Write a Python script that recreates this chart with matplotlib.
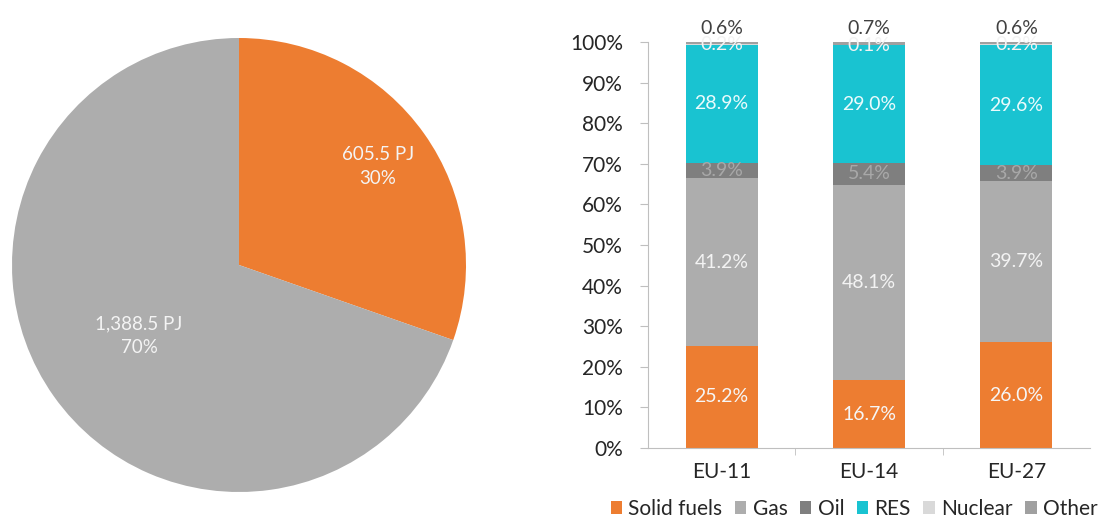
import matplotlib
matplotlib.use("Agg")
import matplotlib.pyplot as plt
import numpy as np

plt.rcParams['font.family'] = ['Lato', 'DejaVu Sans']

# Pie data
pie_values = [605.5, 1388.5]
pie_labels = ["605.5 PJ\n30%", "1,388.5 PJ\n70%"]
pie_colors = ["#ED7D31", "#ADADAD"]

# Stacked bar data
categories = ["EU-11", "EU-14", "EU-27"]
series_names = ["Solid fuels", "Gas", "Oil", "RES", "Nuclear", "Other"]
solid = [25.2, 16.7, 26.0]
gas = [41.2, 48.1, 39.7]
oil = [3.9, 5.4, 3.9]
res = [28.9, 29.0, 29.6]
nuclear = [0.2, 0.1, 0.2]
other = [0.6, 0.7, 0.6]
series = [solid, gas, oil, res, nuclear, other]
colors = ["#ED7D31", "#ADADAD", "#7F7F7F", "#19C3D1", "#D9D9D9", "#A0A0A0"]
label_colors = ["#F6F6F6", "#F3F3F3", "#A8A8A8", "#EAFBFC", "#F3F3F3", "#404040"]
yticks = [0, 10, 20, 30, 40, 50, 60, 70, 80, 90, 100]

fig = plt.figure(figsize=(11.07, 5.23), dpi=100)

# ---- Pie ----
axp = fig.add_axes([12/1107, (523-265-227)/523, 454/1107, 454/523])
wedges, _ = axp.pie(pie_values, colors=pie_colors, startangle=90, counterclock=False,
                    wedgeprops=dict(linewidth=0))
axp.set_xlim(-1, 1)
axp.set_ylim(-1, 1)
axp.set_aspect('equal')
dists = [0.75, 0.54]
for w, lab, d in zip(wedges, pie_labels, dists):
    ang = np.deg2rad((w.theta1 + w.theta2) / 2)
    axp.text(d*np.cos(ang), d*np.sin(ang), lab, ha='center', va='center',
             color='#F4F4F4', fontsize=13.5, linespacing=1.45)

# ---- Stacked bars ----
ax = fig.add_axes([648/1107, 1-448/523, 442/1107, 406/523])
x = np.arange(len(categories))
bottom = np.zeros(len(categories))
for i, (name, vals, c) in enumerate(zip(series_names, series, colors)):
    vals = np.array(vals)
    ax.bar(x, vals, bottom=bottom, width=0.49, color=c, label=name, linewidth=0)
    for j in range(len(categories)):
        if name == "Other":
            ax.annotate(f"{vals[j]:.1f}%", (x[j], bottom[j] + vals[j]),
                        xytext=(0, 10), textcoords='offset points', ha='center', va='center',
                        color=label_colors[i], fontsize=14)
        else:
            ax.text(x[j], bottom[j] + vals[j]/2, f"{vals[j]:.1f}%", ha='center', va='center',
                    color=label_colors[i], fontsize=14)
    bottom = bottom + vals

ax.set_ylim(0, 100)
ax.set_xlim(-0.5, 2.5)
ax.set_yticks(yticks)
ax.set_yticklabels([f"{t}%" for t in yticks], fontsize=15, color='#262626')
ax.set_xticks(x)
ax.set_xticklabels(categories, fontsize=15, color='#262626')
ax.tick_params(axis='x', length=0, pad=10)
ax.set_xticks([0.5, 1.5], minor=True)
ax.tick_params(axis='x', which='minor', length=5, color='#BFBFBF', direction='out')
ax.tick_params(axis='y', length=6, color='#BFBFBF', pad=12)
for s in ['top', 'right']:
    ax.spines[s].set_visible(False)
for s in ['left', 'bottom']:
    ax.spines[s].set_color('#BFBFBF')

leg = ax.legend(loc='center', bbox_to_anchor=(0.466, -0.15), ncol=6, frameon=False,
                fontsize=15, handlelength=0.55, handleheight=0.55, handletextpad=0.3,
                columnspacing=0.6, borderaxespad=0)
for t in leg.get_texts():
    t.set_color('#262626')

fig.savefig("out.png", dpi=100)
